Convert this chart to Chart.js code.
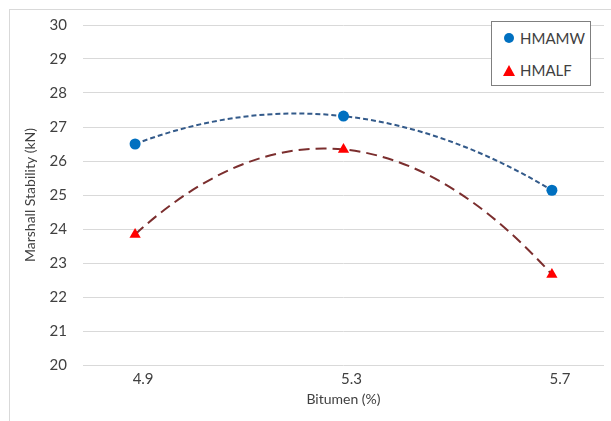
<!DOCTYPE html>
<html>
<head>
<meta charset="utf-8">
<script src="https://cdn.jsdelivr.net/npm/chart.js@4.4.1/dist/chart.umd.min.js"></script>
<style>
    html, body { margin: 0; padding: 0; background: #fff; }
    #wrap { position: relative; width: 611px; height: 421px; }
    #frame { position: absolute; left: 9px; top: 9px; width: 700px; height: 500px;
             border-left: 1px solid #d9d9d9; border-top: 1px solid #d9d9d9; }
    #legend { position: absolute; left: 491px; top: 21px; width: 98px; height: 63px;
              border: 1px solid #7f7f7f; background: #fff;
              font: 15px Lato, "Open Sans", sans-serif; color: #404040; }
    .item { position: absolute; left: 12px; display: flex; align-items: center; }
    .dot { width: 10px; height: 10px; border-radius: 50%; background: #0070c0; margin-right: 6px; }
    .tri { width: 0; height: 0; border-left: 6px solid transparent; border-right: 6px solid transparent;
           border-bottom: 11px solid #ff0000; margin-right: 5px; margin-left: -1px; }
</style>
</head>
<body>
<div id="wrap">
    <canvas id="chart" width="611" height="421"></canvas>
    <div id="frame"></div>
    <div id="legend">
        <div class="item" style="top:7px"><span class="dot"></span><span id="lab0"></span></div>
        <div class="item" style="top:39px"><span class="tri"></span><span id="lab1"></span></div>
    </div>
</div>
<script>
const bitumen = [4.9, 5.3, 5.7];
const seriesNames = ['HMAMW', 'HMALF'];
const hmamw = [26.5, 27.32, 25.14];
const hmalf = [23.84, 26.34, 22.66];
const yTicks = [20, 21, 22, 23, 24, 25, 26, 27, 28, 29, 30];

const toPoints = (values) => bitumen.map((x, i) => ({ x: x, y: values[i] }));

document.getElementById('lab0').textContent = seriesNames[0];
document.getElementById('lab1').textContent = seriesNames[1];

// smooth trend curve: catmull-rom inside, parabolic ends (like the excel poly trendline)
const trendCurve = {
    id: 'trendCurve',
    beforeDatasetDraw(chart, args) {
        const meta = args.meta;
        const line = meta.dataset;
        if (!line) return;
        line.updateControlPoints(chart.chartArea);
        const pts = meta.data;
        const n = pts.length;
        if (n < 3) return;
        for (let i = 1; i < n - 1; i++) {
            const dx = (pts[i + 1].x - pts[i - 1].x) / 6;
            const dy = (pts[i + 1].y - pts[i - 1].y) / 6;
            pts[i].cp1x = pts[i].x - dx; pts[i].cp1y = pts[i].y - dy;
            pts[i].cp2x = pts[i].x + dx; pts[i].cp2y = pts[i].y + dy;
        }
        const first = pts[0], p1 = pts[1];
        const qx = p1.x + 1.5 * (p1.cp1x - p1.x), qy = p1.y + 1.5 * (p1.cp1y - p1.y);
        first.cp2x = first.x + 2 / 3 * (qx - first.x);
        first.cp2y = first.y + 2 / 3 * (qy - first.y);
        const last = pts[n - 1], pn = pts[n - 2];
        const rx = pn.x + 1.5 * (pn.cp2x - pn.x), ry = pn.y + 1.5 * (pn.cp2y - pn.y);
        last.cp1x = last.x + 2 / 3 * (rx - last.x);
        last.cp1y = last.y + 2 / 3 * (ry - last.y);
    }
};

const font = { family: 'Lato, "Open Sans", sans-serif', size: 14 };
const tickFont = { family: 'Lato, "Open Sans", sans-serif', size: 15 };

const ctx = document.getElementById('chart').getContext('2d');
const chart = new Chart(ctx, {
    type: 'scatter',
    plugins: [trendCurve],
    data: {
        datasets: [
            {
                label: seriesNames[0],
                data: toPoints(hmamw),
                showLine: true,
                tension: 0.33,
                borderColor: '#335a8a',
                borderWidth: 2,
                borderDash: [5, 3],
                pointStyle: 'circle',
                pointRadius: 5.5,
                pointBackgroundColor: '#0070c0',
                pointBorderColor: '#0070c0',
                pointBorderWidth: 0
            },
            {
                label: seriesNames[1],
                data: toPoints(hmalf),
                showLine: true,
                tension: 0.33,
                borderColor: '#7b2e2e',
                borderWidth: 2,
                borderDash: [11, 6],
                pointStyle: 'triangle',
                pointRadius: 6.5,
                pointBackgroundColor: '#ff0000',
                pointBorderColor: '#ff0000',
                pointBorderWidth: 0
            }
        ]
    },
    options: {
        responsive: false,
        animation: false,
        layout: { padding: { left: 22, top: 20, right: 7, bottom: 13 } },
        elements: { line: { capBezierPoints: false } },
        plugins: {
            legend: { display: false },
            tooltip: { enabled: false }
        },
        scales: {
            x: {
                type: 'linear',
                min: 4.8,
                max: 5.8,
                afterBuildTicks: (axis) => { axis.ticks = bitumen.map(v => ({ value: v })); },
                afterFit: (axis) => { axis.height = 43; },
                grid: { display: false, drawTicks: false },
                border: { display: false },
                ticks: {
                    font: tickFont,
                    color: '#404040',
                    padding: 5,
                    labelOffset: 8,
                    callback: (v) => v.toFixed(1)
                },
                title: { display: true, text: 'Bitumen (%)', font: font, color: '#404040', padding: 0 }
            },
            y: {
                min: 20,
                max: 30,
                afterBuildTicks: (axis) => { axis.ticks = yTicks.map(v => ({ value: v })); },
                afterFit: (axis) => { axis.width = 61; },
                grid: { color: '#d9d9d9', lineWidth: 1, drawTicks: false },
                border: { display: false },
                ticks: { font: tickFont, color: '#404040', padding: 16 },
                title: { display: true, text: 'Marshall Stability (kN)', font: font, color: '#404040', padding: 0 }
            }
        }
    }
});
</script>
</body>
</html>
